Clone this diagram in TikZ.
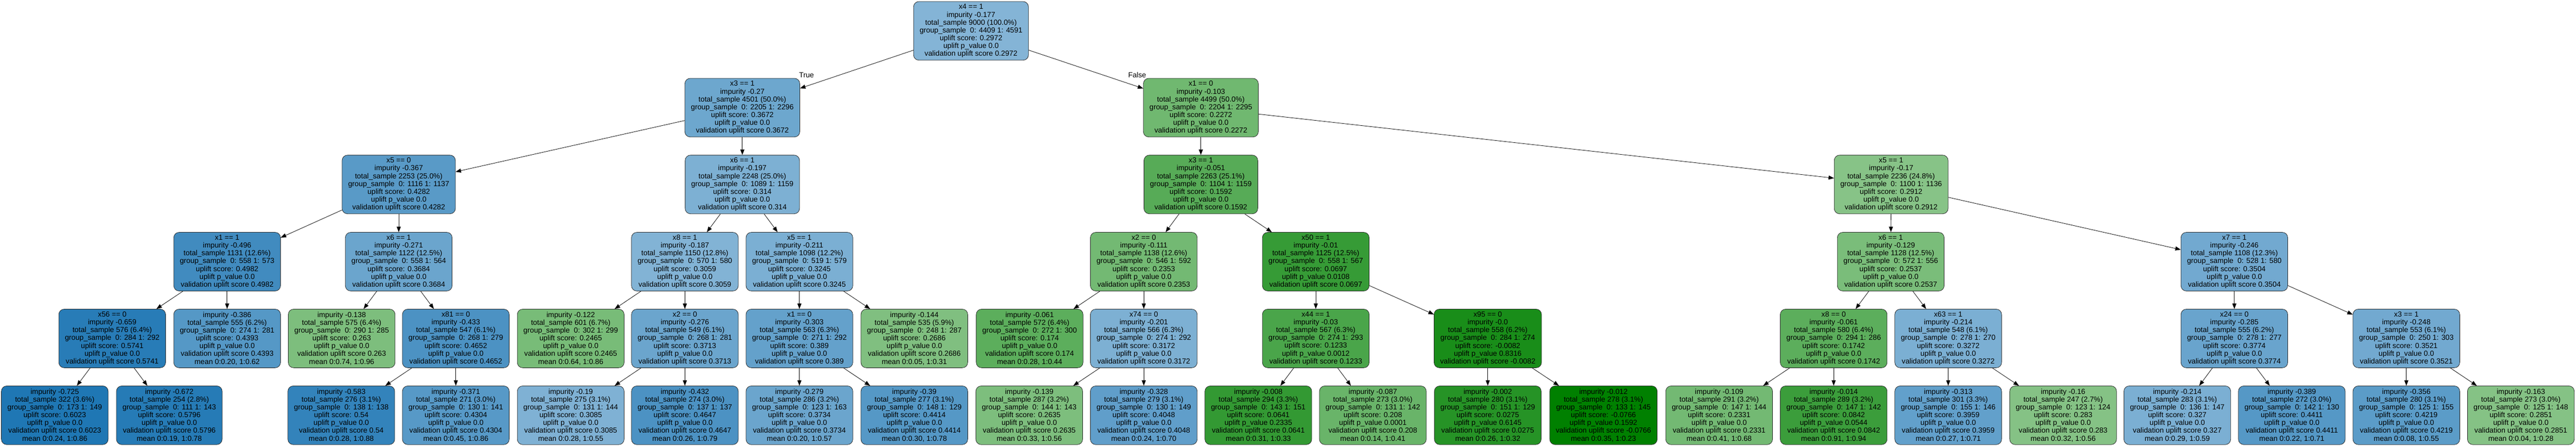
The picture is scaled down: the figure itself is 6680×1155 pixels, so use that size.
\documentclass[tikz,border=0pt]{standalone}
\usepackage{fontspec}
\setmainfont{Liberation Sans}
\usetikzlibrary{arrows.meta}

\definecolor{upblue}{RGB}{31,119,180}
\definecolor{upgreen}{RGB}{0,128,0}

% split node: condition, impurity, total, groups, score, p-value
\newcommand{\splitinfo}[6]{#1\\impurity #2\\total\_sample #3\\group\_sample\ \ #4\\uplift score: #5\\uplift p\_value #6\\validation uplift score #5}
% leaf: impurity, total, groups, score, p-value, means
\newcommand{\leafinfo}[6]{impurity #1\\total\_sample #2\\group\_sample\ \ #3\\uplift score: #4\\uplift p\_value #5\\validation uplift score #4\\mean #6}

\begin{document}
\begin{tikzpicture}[x=0.01cm, y=-0.01cm, line width=0.3pt,
    >={Triangle[length=4pt,width=3pt]},
    treenode/.style={draw=black!85, rounded corners=4pt, align=center,
      inner xsep=4.5pt, inner ysep=0pt, minimum height=1.52cm,
      font=\fontsize{5.4}{5.75}\selectfont},
    bnode/.style={treenode, fill=upblue!#1},
    gnode/.style={treenode, fill=upgreen!#1},
    edgelabel/.style={inner sep=0pt, font=\fontsize{5.4}{5.75}\selectfont}]
  \useasboundingbox (0,0) rectangle (6680,1155);

  % level 0 and 1
  \node[bnode=55] (root) at (2518,80) {\splitinfo{x4 == 1}{-0.177}{9000 (100.0\%)}{0: 4409 1: 4591}{0.2972}{0.0}};
  \node[bnode=65] (l) at (1925,279) {\splitinfo{x3 == 1}{-0.27}{4501 (50.0\%)}{0: 2205 1: 2296}{0.3672}{0.0}};
  \node[gnode=56] (r) at (3114,279) {\splitinfo{x1 == 0}{-0.103}{4499 (50.0\%)}{0: 2204 1: 2295}{0.2272}{0.0}};

  % level 2
  \node[bnode=74] (ll) at (1034,478) {\splitinfo{x5 == 0}{-0.367}{2253 (25.0\%)}{0: 1116 1: 1137}{0.4282}{0.0}};
  \node[bnode=58] (lr) at (1925,478) {\splitinfo{x6 == 1}{-0.197}{2248 (25.0\%)}{0: 1089 1: 1159}{0.314}{0.0}};
  \node[gnode=66] (rl) at (3114,478) {\splitinfo{x3 == 1}{-0.051}{2263 (25.1\%)}{0: 1104 1: 1159}{0.1592}{0.0}};
  \node[gnode=47] (rr) at (4904,478) {\splitinfo{x5 == 1}{-0.17}{2236 (24.8\%)}{0: 1100 1: 1136}{0.2912}{0.0}};

  % level 3
  \node[bnode=85] (lll) at (589,678) {\splitinfo{x1 == 1}{-0.496}{1131 (12.6\%)}{0: 558 1: 573}{0.4982}{0.0}};
  \node[bnode=66] (llr) at (1034,678) {\splitinfo{x6 == 1}{-0.271}{1122 (12.5\%)}{0: 558 1: 564}{0.3684}{0.0}};
  \node[bnode=56] (lrl) at (1776,678) {\splitinfo{x8 == 1}{-0.187}{1150 (12.8\%)}{0: 570 1: 580}{0.3059}{0.0}};
  \node[bnode=59] (lrr) at (2073,678) {\splitinfo{x5 == 1}{-0.211}{1098 (12.2\%)}{0: 519 1: 579}{0.3245}{0.0}};
  \node[gnode=55] (rll) at (2966,678) {\splitinfo{x2 == 0}{-0.111}{1138 (12.6\%)}{0: 546 1: 592}{0.2353}{0.0}};
  \node[gnode=79] (rlr) at (3412,678) {\splitinfo{x50 == 1}{-0.01}{1125 (12.5\%)}{0: 558 1: 567}{0.0697}{0.0108}};
  \node[gnode=52] (rrl) at (4903,678) {\splitinfo{x6 == 1}{-0.129}{1128 (12.5\%)}{0: 572 1: 556}{0.2537}{0.0}};
  \node[bnode=63] (rrr) at (5794,678) {\splitinfo{x7 == 1}{-0.246}{1108 (12.3\%)}{0: 528 1: 580}{0.3504}{0.0}};

  % level 4
  \node[bnode=96] (llll) at (291,877) {\splitinfo{x56 == 0}{-0.659}{576 (6.4\%)}{0: 284 1: 292}{0.5741}{0.0}};
  \node[bnode=76] (lllr) at (589,877) {\leafinfo{-0.386}{555 (6.2\%)}{0: 274 1: 281}{0.4393}{0.0}{0:0.20, 1:0.62}};
  \node[gnode=51] (llrl) at (886,877) {\leafinfo{-0.138}{575 (6.4\%)}{0: 290 1: 285}{0.263}{0.0}{0:0.74, 1:0.96}};
  \node[bnode=80] (llrr) at (1182,877) {\splitinfo{x81 == 0}{-0.433}{547 (6.1\%)}{0: 268 1: 279}{0.4652}{0.0}};
  \node[gnode=53] (lrll) at (1480,877) {\leafinfo{-0.122}{601 (6.7\%)}{0: 302 1: 299}{0.2465}{0.0}{0:0.64, 1:0.86}};
  \node[bnode=66] (lrlr) at (1776,877) {\splitinfo{x2 == 0}{-0.276}{549 (6.1\%)}{0: 268 1: 281}{0.3713}{0.0}};
  \node[bnode=69] (lrrl) at (2073,877) {\splitinfo{x1 == 0}{-0.303}{563 (6.3\%)}{0: 271 1: 292}{0.389}{0.0}};
  \node[gnode=50] (lrrr) at (2371,877) {\leafinfo{-0.144}{535 (5.9\%)}{0: 248 1: 287}{0.2686}{0.0}{0:0.05, 1:0.31}};
  \node[gnode=64] (rlll) at (2670,877) {\leafinfo{-0.061}{572 (6.4\%)}{0: 272 1: 300}{0.174}{0.0}{0:0.28, 1:0.44}};
  \node[bnode=58] (rllr) at (2966,877) {\splitinfo{x74 == 0}{-0.201}{566 (6.3\%)}{0: 274 1: 292}{0.3172}{0.0}};
  \node[gnode=71] (rlrl) at (3412,877) {\splitinfo{x44 == 1}{-0.03}{567 (6.3\%)}{0: 274 1: 293}{0.1233}{0.0012}};
  \node[gnode=90] (rlrr) at (3858,877) {\splitinfo{x95 == 0}{-0.0}{558 (6.2\%)}{0: 284 1: 274}{-0.0082}{0.8316}};
  \node[gnode=64] (rrll) at (4755,877) {\splitinfo{x8 == 0}{-0.061}{580 (6.4\%)}{0: 294 1: 286}{0.1742}{0.0}};
  \node[bnode=59] (rrlr) at (5052,877) {\splitinfo{x63 == 1}{-0.214}{548 (6.1\%)}{0: 278 1: 270}{0.3272}{0.0}};
  \node[bnode=67] (rrrl) at (5794,877) {\splitinfo{x24 == 0}{-0.285}{555 (6.2\%)}{0: 278 1: 277}{0.3774}{0.0}};
  \node[bnode=63] (rrrr) at (6240,877) {\splitinfo{x3 == 1}{-0.248}{553 (6.1\%)}{0: 250 1: 303}{0.3521}{0.0}};

  % level 5
  \node[bnode=100] (lllll) at (142,1076) {\leafinfo{-0.725}{322 (3.6\%)}{0: 173 1: 149}{0.6023}{0.0}{0:0.24, 1:0.86}};
  \node[bnode=97] (llllr) at (439,1076) {\leafinfo{-0.672}{254 (2.8\%)}{0: 111 1: 143}{0.5796}{0.0}{0:0.19, 1:0.78}};
  \node[bnode=91] (llrrl) at (885,1076) {\leafinfo{-0.583}{276 (3.1\%)}{0: 138 1: 138}{0.54}{0.0}{0:0.28, 1:0.88}};
  \node[bnode=75] (llrrr) at (1182,1076) {\leafinfo{-0.371}{271 (3.0\%)}{0: 130 1: 141}{0.4304}{0.0}{0:0.45, 1:0.86}};
  \node[bnode=57] (lrlrl) at (1480,1076) {\leafinfo{-0.19}{275 (3.1\%)}{0: 131 1: 144}{0.3085}{0.0}{0:0.28, 1:0.55}};
  \node[bnode=80] (lrlrr) at (1776,1076) {\leafinfo{-0.432}{274 (3.0\%)}{0: 137 1: 137}{0.4647}{0.0}{0:0.26, 1:0.79}};
  \node[bnode=66] (lrrll) at (2073,1076) {\leafinfo{-0.279}{286 (3.2\%)}{0: 123 1: 163}{0.3734}{0.0}{0:0.20, 1:0.57}};
  \node[bnode=76] (lrrlr) at (2371,1076) {\leafinfo{-0.39}{277 (3.1\%)}{0: 148 1: 129}{0.4414}{0.0}{0:0.30, 1:0.78}};
  \node[gnode=51] (rllrl) at (2669,1076) {\leafinfo{-0.139}{287 (3.2\%)}{0: 144 1: 143}{0.2635}{0.0}{0:0.33, 1:0.56}};
  \node[bnode=71] (rllrr) at (2966,1076) {\leafinfo{-0.328}{279 (3.1\%)}{0: 130 1: 149}{0.4048}{0.0}{0:0.24, 1:0.70}};
  \node[gnode=80] (rlrll) at (3263,1076) {\leafinfo{-0.008}{294 (3.3\%)}{0: 143 1: 151}{0.0641}{0.2335}{0:0.31, 1:0.33}};
  \node[gnode=59] (rlrlr) at (3560,1076) {\leafinfo{-0.087}{273 (3.0\%)}{0: 131 1: 142}{0.208}{0.0001}{0:0.14, 1:0.41}};
  \node[gnode=85] (rlrrl) at (3858,1076) {\leafinfo{-0.002}{280 (3.1\%)}{0: 151 1: 129}{0.0275}{0.6145}{0:0.26, 1:0.32}};
  \node[gnode=100] (rlrrr) at (4158,1076) {\leafinfo{-0.012}{278 (3.1\%)}{0: 133 1: 145}{-0.0766}{0.1592}{0:0.35, 1:0.23}};
  \node[gnode=55] (rrlll) at (4458,1076) {\leafinfo{-0.109}{291 (3.2\%)}{0: 147 1: 144}{0.2331}{0.0}{0:0.41, 1:0.68}};
  \node[gnode=77] (rrllr) at (4755,1076) {\leafinfo{-0.014}{289 (3.2\%)}{0: 147 1: 142}{0.0842}{0.0544}{0:0.91, 1:0.94}};
  \node[bnode=70] (rrlrl) at (5052,1076) {\leafinfo{-0.313}{301 (3.3\%)}{0: 155 1: 146}{0.3959}{0.0}{0:0.27, 1:0.71}};
  \node[gnode=48] (rrlrr) at (5350,1076) {\leafinfo{-0.16}{247 (2.7\%)}{0: 123 1: 124}{0.283}{0.0}{0:0.32, 1:0.56}};
  \node[bnode=59] (rrrll) at (5646,1076) {\leafinfo{-0.214}{283 (3.1\%)}{0: 136 1: 147}{0.327}{0.0}{0:0.29, 1:0.59}};
  \node[bnode=76] (rrrlr) at (5943,1076) {\leafinfo{-0.389}{272 (3.0\%)}{0: 142 1: 130}{0.4411}{0.0}{0:0.22, 1:0.71}};
  \node[bnode=73] (rrrrl) at (6240,1076) {\leafinfo{-0.356}{280 (3.1\%)}{0: 125 1: 155}{0.4219}{0.0}{0:0.08, 1:0.55}};
  \node[gnode=48] (rrrrr) at (6537,1076) {\leafinfo{-0.163}{273 (3.0\%)}{0: 125 1: 148}{0.2851}{0.0}{0:0.04, 1:0.28}};

  % edges
  \draw[->] (root) -- (l);
  \draw[->] (root) -- (r);
  \node[edgelabel, anchor=south west] (truelbl) at ([xshift=-0.8pt]l.north east) {True};
  \node[edgelabel, anchor=south east] (falselbl) at ([xshift=2.3pt]r.north west) {False};
  \draw[->] (l) -- (ll);
  \draw[->] (l) -- (lr);
  \draw[->] (ll) -- (lll);
  \draw[->] (ll) -- (llr);
  \draw[->] (lll) -- (llll);
  \draw[->] (lll) -- (lllr);
  \draw[->] (llll) -- (lllll);
  \draw[->] (llll) -- (llllr);
  \draw[->] (llr) -- (llrl);
  \draw[->] (llr) -- (llrr);
  \draw[->] (llrr) -- (llrrl);
  \draw[->] (llrr) -- (llrrr);
  \draw[->] (lr) -- (lrl);
  \draw[->] (lr) -- (lrr);
  \draw[->] (lrl) -- (lrll);
  \draw[->] (lrl) -- (lrlr);
  \draw[->] (lrlr) -- (lrlrl);
  \draw[->] (lrlr) -- (lrlrr);
  \draw[->] (lrr) -- (lrrl);
  \draw[->] (lrr) -- (lrrr);
  \draw[->] (lrrl) -- (lrrll);
  \draw[->] (lrrl) -- (lrrlr);
  \draw[->] (r) -- (rl);
  \draw[->] (r) -- (rr);
  \draw[->] (rl) -- (rll);
  \draw[->] (rl) -- (rlr);
  \draw[->] (rll) -- (rlll);
  \draw[->] (rll) -- (rllr);
  \draw[->] (rllr) -- (rllrl);
  \draw[->] (rllr) -- (rllrr);
  \draw[->] (rlr) -- (rlrl);
  \draw[->] (rlr) -- (rlrr);
  \draw[->] (rlrl) -- (rlrll);
  \draw[->] (rlrl) -- (rlrlr);
  \draw[->] (rlrr) -- (rlrrl);
  \draw[->] (rlrr) -- (rlrrr);
  \draw[->] (rr) -- (rrl);
  \draw[->] (rr) -- (rrr);
  \draw[->] (rrl) -- (rrll);
  \draw[->] (rrl) -- (rrlr);
  \draw[->] (rrll) -- (rrlll);
  \draw[->] (rrll) -- (rrllr);
  \draw[->] (rrlr) -- (rrlrl);
  \draw[->] (rrlr) -- (rrlrr);
  \draw[->] (rrr) -- (rrrl);
  \draw[->] (rrr) -- (rrrr);
  \draw[->] (rrrl) -- (rrrll);
  \draw[->] (rrrl) -- (rrrlr);
  \draw[->] (rrrr) -- (rrrrl);
  \draw[->] (rrrr) -- (rrrrr);
\end{tikzpicture}
\end{document}
